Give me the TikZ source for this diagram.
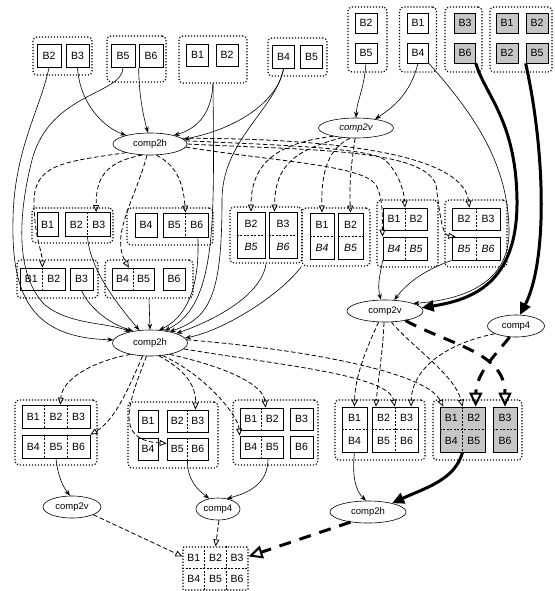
\documentclass[tikz,border=0pt]{standalone}
\usepackage{fontspec}
\setmainfont{Liberation Sans}
\usetikzlibrary{shapes.geometric,arrows.meta,calc}
\newcommand{\blkfont}{\fontsize{10.5}{12}\selectfont}
\newcommand{\opsfont}{\fontsize{9.5}{11}\selectfont}
\newcommand{\cellpair}[3]{\makebox[#1]{#2}\makebox[#1]{#3}}
\newcommand{\celltriple}[4]{\makebox[#1]{#2}\makebox[#1]{#3}\makebox[#1]{#4}}
\tikzset{
  sz/.style 2 args={minimum width=#1pt, minimum height=#2pt},
  grp/.style={draw, line width=1.2pt, dash pattern=on 1.2pt off 1.8pt, rounded corners=4pt, inner sep=0pt},
  blk/.style={draw, line width=0.7pt, inner sep=0pt, font=\blkfont, align=center},
  dark/.style={blk, fill=gray!45},
  cellsep/.style={line width=0.5pt, dash pattern=on 2pt off 1.5pt},
  op/.style={ellipse, draw, line width=0.6pt, inner sep=0pt, font=\opsfont},
  flow/.style={line width=0.6pt, -{Stealth[length=6pt,width=4.5pt]}},
  res/.style={line width=0.8pt, dash pattern=on 4.5pt off 2.5pt, -{Triangle[open,length=7pt,width=6pt]}},
  heavy/.style={line width=3pt, -{Triangle[length=12pt,width=11pt]}},
  heavyres/.style={line width=3pt, dash pattern=on 12pt off 9pt, -{Triangle[open,length=14pt,width=13pt,line width=2pt]}}
}
\begin{document}
\begin{tikzpicture}[x=1pt,y=-1pt]
\useasboundingbox (0,0) rectangle (554,591);

\node[grp, sz={59}{38}] (g1) at (62.5,56) {};
\node[blk, sz={24}{23}] (g1a) at (49,56) {B2};
\node[blk, sz={23}{23}] (g1b) at (77.5,56) {B3};
\node[grp, sz={59}{46}] (g2) at (136.5,59) {};
\node[blk, sz={24}{23}] (g2a) at (123,56) {B5};
\node[blk, sz={24}{23}] (g2b) at (151,56) {B6};
\node[grp, sz={68}{47}] (g3) at (213,59.5) {};
\node[blk, sz={22}{22}] (g3a) at (197.5,55) {B1};
\node[blk, sz={22}{22}] (g3b) at (227,55) {B2};
\node[grp, sz={59}{38}] (g4) at (297.5,57) {};
\node[blk, sz={22}{23}] (g4a) at (283.5,57) {B4};
\node[blk, sz={22}{23}] (g4b) at (311.5,57) {B5};
\node[grp, sz={39}{65}] (g5) at (367.5,39.5) {};
\node[blk, sz={22}{20}] (g5a) at (366,23) {B2};
\node[blk, sz={22}{20}] (g5b) at (366,53) {B5};
\node[grp, sz={37}{65}] (g6) at (418,39.5) {};
\node[blk, sz={21}{20}] (g6a) at (418,23) {B1};
\node[blk, sz={21}{20}] (g6b) at (418,53) {B4};
\node[grp, sz={37}{65}] (g7) at (463.5,39.5) {};
\node[dark, sz={21}{20}] (g7a) at (465,23) {B3};
\node[dark, sz={21}{20}] (g7b) at (465,53) {B6};
\node[grp, sz={62}{65}] (g8) at (521,39.5) {};
\node[dark, sz={22}{20}] (g8a) at (507,23) {B1};
\node[dark, sz={22}{20}] (g8b) at (537,23) {B2};
\node[dark, sz={22}{20}] (g8c) at (507,53) {B2};
\node[dark, sz={22}{20}] (g8d) at (537,53) {B5};

\node[op, sz={74}{22}] (c2ht) at (150,144) {comp2h};
\node[op, sz={75}{20}, font=\opsfont\itshape] (c2vt) at (356,128) {comp2v};

\node[grp, sz={81}{35}] (g9) at (72.5,225.5) {};
\node[blk, sz={21}{24}] (g9a) at (47.5,224.5) {B1};
\node[blk, sz={45}{24}] (g9b) at (87.5,224.5) {\cellpair{22.5pt}{B2}{B3}};
\node[grp, sz={86}{37}] (g10) at (170,226.5) {};
\node[blk, sz={22}{24}] (g10a) at (146,225) {B4};
\node[blk, sz={45}{24}] (g10b) at (185.5,225) {\cellpair{22.5pt}{B5}{B6}};
\node[grp, sz={81}{38}] (g11) at (57.5,279) {};
\node[blk, sz={45}{22}] (g11a) at (42.5,279) {\cellpair{22.5pt}{B1}{B2}};
\node[blk, sz={23}{22}] (g11b) at (81.5,279) {B3};
\node[grp, sz={88}{38}] (g12) at (149,279) {};
\node[blk, sz={42}{22}] (g12a) at (133,279) {\cellpair{21pt}{B4}{B5}};
\node[blk, sz={22}{22}] (g12b) at (174,279) {B6};
\node[grp, sz={72}{56}] (g13) at (266,235) {};
\node[blk, sz={28}{46}] (g13a) at (251,235) {B2\\[11pt]\textit{B5}};
\node[blk, sz={28}{46}] (g13b) at (283,235) {B3\\[11pt]\textit{B6}};
\node[grp, sz={68}{58}] (g14) at (336,237) {};
\node[blk, sz={24}{46}] (g14a) at (322,236) {B1\\[11pt]\textit{B4}};
\node[blk, sz={25}{46}] (g14b) at (350.5,236) {B2\\[11pt]\textit{B5}};
\node[grp, sz={61}{67}] (g15) at (407.5,233.5) {};
\node[blk, sz={44}{22}] (g15a) at (405,219) {\cellpair{22pt}{B1}{B2}};
\node[blk, sz={44}{23}] (g15b) at (405,248.5) {\itshape\cellpair{22pt}{B4}{B5}};
\node[grp, sz={62}{67}] (g16) at (476,233.5) {};
\node[blk, sz={48}{22}] (g16a) at (476,219) {\cellpair{24pt}{B2}{B3}};
\node[blk, sz={48}{23}] (g16b) at (476,248.5) {\itshape\cellpair{24pt}{B5}{B6}};

\node[op, sz={76}{22}] (c2vm) at (385,311) {comp2v};
\node[op, sz={57}{22}] (c4m) at (516,326) {comp4};
\node[op, sz={75}{26}] (c2hm) at (150,343) {comp2h};

\node[grp, sz={82}{65}] (g17) at (56,432.5) {};
\node[blk, sz={68}{23}] (g17a) at (56,416.5) {\celltriple{22.67pt}{B1}{B2}{B3}};
\node[blk, sz={68}{23}] (g17b) at (56,446.5) {\celltriple{22.67pt}{B4}{B5}{B6}};
\node[grp, sz={90}{66}] (g18) at (173,435) {};
\node[blk, sz={20}{22}] (g18a) at (148,421) {B1};
\node[blk, sz={41}{22}] (g18b) at (187.5,421) {\cellpair{20.5pt}{B2}{B3}};
\node[blk, sz={20}{22}] (g18c) at (148,449) {B4};
\node[blk, sz={41}{22}] (g18d) at (187.5,449) {\cellpair{20.5pt}{B5}{B6}};
\node[grp, sz={85}{65}] (g19) at (275.5,432.5) {};
\node[blk, sz={43}{22}] (g19a) at (261.5,419) {\cellpair{21.5pt}{B1}{B2}};
\node[blk, sz={23}{22}] (g19b) at (301.5,419) {B3};
\node[blk, sz={43}{22}] (g19c) at (261.5,447) {\cellpair{21.5pt}{B4}{B5}};
\node[blk, sz={23}{22}] (g19d) at (301.5,447) {B6};
\node[grp, sz={90}{60}] (g20) at (380,430) {};
\node[blk, sz={25}{45}] (g20a) at (354.5,429.5) {B1\\[10.5pt]B4};
\node[blk, sz={46}{45}] (g20b) at (395,429.5) {\cellpair{23pt}{B2}{B3}\\[10.5pt]\cellpair{23pt}{B5}{B6}};
\node[grp, sz={89}{60}] (g21) at (477.5,430) {};
\node[dark, sz={45}{45}] (g21a) at (462.5,429.5) {\cellpair{22.5pt}{B1}{B2}\\[10.5pt]\cellpair{22.5pt}{B4}{B5}};
\node[dark, sz={24}{45}] (g21b) at (505,429.5) {B3\\[10.5pt]B6};

\node[op, sz={58}{22}] (c2vb) at (72,507) {comp2v};
\node[op, sz={44}{22}] (c4b) at (218,509) {comp4};
\node[op, sz={76}{22}] (c2hb) at (368,512) {comp2h};

\node[grp, sz={65}{43}, rounded corners=1pt, font=\blkfont, align=center] (fin) at (215.5,568.5) {\celltriple{21.67pt}{B1}{B2}{B3}\\[9.5pt]\celltriple{21.67pt}{B4}{B5}{B6}};

\foreach \n in {g9b,g10b,g11a,g12a,g15a,g15b,g16a,g16b,g18b,g18d,g19a,g19c,g20b,g21a}
  \draw[cellsep] (\n.north) -- (\n.south);
\foreach \n in {g13a,g13b,g14a,g14b,g20a,g20b,g21a,g21b,fin}
  \draw[cellsep] (\n.west) -- (\n.east);
\foreach \n in {g17a,g17b,fin} {
  \draw[cellsep] ($(\n.north west)!1/3!(\n.north east)$) -- ($(\n.south west)!1/3!(\n.south east)$);
  \draw[cellsep] ($(\n.north west)!2/3!(\n.north east)$) -- ($(\n.south west)!2/3!(\n.south east)$);
}

\draw[flow] (g1b.south) .. controls (80,105) and (105,128) .. (c2ht.160);
\draw[flow] (g2b.south west) .. controls (139,95) and (143,115) .. (c2ht.100);
\draw[flow] (g3.south) .. controls (212,110) and (200,128) .. (c2ht.20);
\draw[flow] (g4a.south) .. controls (278,100) and (240,128) .. (c2ht.8);
\draw[flow] (g1a.south) .. controls (40,110) and (14,150) .. (13,220) .. controls (11,300) and (35,338) .. (c2hm.175);
\draw[flow] (g2a.south) .. controls (122,95) and (50,92) .. (32,160) .. controls (18,215) and (15,275) .. (45,305) .. controls (70,325) and (105,322) .. (c2hm.150);
\draw[flow] (g3.south) .. controls (214,220) and (218,305) .. (c2hm.40);
\draw[flow] (g4a.south) .. controls (275,110) and (222,140) .. (222,200) .. controls (222,295) and (210,318) .. (c2hm.30);
\draw[flow] (g9b.south) .. controls (90,270) and (118,305) .. (c2hm.130);
\draw[flow] (g11b.south) .. controls (88,305) and (105,322) .. (c2hm.145);
\draw[flow] (g12.south) -- (c2hm.north);
\draw[flow] (g10b.-45) .. controls (200,290) and (185,318) .. (c2hm.55);
\draw[flow] (g13.south) .. controls (262,295) and (215,320) .. (c2hm.20);
\draw[flow] (g14.south west) .. controls (280,295) and (225,330) .. (c2hm.8);
\draw[flow] (g5b.south) .. controls (364,90) and (357,100) .. (c2vt.north);
\draw[flow] (g6b.south) .. controls (410,95) and (392,108) .. (c2vt.25);
\draw[flow] (g15b.south west) .. controls (380,275) and (377,285) .. (c2vm.110);
\draw[flow] (g16b.south west) .. controls (425,270) and (408,282) .. (c2vm.50);
\draw[flow] (g6b.south east) .. controls (470,110) and (508,160) .. (509,230) .. controls (510,285) and (460,300) .. (c2vm.15);
\draw[heavy] (g7b.south east) .. controls (485,95) and (516,120) .. (517,200) .. controls (518,285) and (470,300) .. (c2vm.5);
\draw[heavy] (g8d.south west) .. controls (545,150) and (548,260) .. (c4m.70);
\draw[flow] (g17b.south) .. controls (58,478) and (64,488) .. (c2vb.100);
\draw[flow] (g18d.south) .. controls (187,480) and (198,490) .. (c4b.130);
\draw[flow] (g19c.-60) .. controls (268,482) and (252,492) .. (c4b.50);
\draw[flow] (g20a.south) .. controls (352,475) and (355,490) .. (c2hb.100);
\draw[heavy] (g21a.south) .. controls (455,480) and (425,488) .. (c2hb.20);

\draw[res] (c2ht.200) .. controls (60,162) and (33,165) .. (34,205) .. controls (35,240) and (42,250) .. (g11a.north);
\draw[res] (c2ht.235) .. controls (105,162) and (96,178) .. (g9b.55);
\draw[res] (c2ht.255) .. controls (135,200) and (110,235) .. (g12a.110);
\draw[res] (c2ht.300) .. controls (175,165) and (183,180) .. (g10b.north);
\draw[res] (c2ht.5) .. controls (280,145) and (370,148) .. (385,160) .. controls (398,172) and (404,190) .. (g15a.north);
\draw[res] (c2ht.-5) .. controls (280,162) and (362,165) .. (376,185) .. controls (384,200) and (382,220) .. (g15b.north west);
\draw[res] (c2ht.10) .. controls (300,138) and (462,148) .. (g16a.120);
\draw[res] (c2ht.0) .. controls (300,150) and (425,148) .. (436,185) .. controls (440,215) and (442,235) .. (g16b.150);
\draw[res] (c2vt.200) .. controls (285,142) and (251,158) .. (g13a.north);
\draw[res] (c2vt.215) .. controls (295,150) and (275,165) .. (g13b.110);
\draw[res] (c2vt.240) .. controls (330,148) and (321,168) .. (g14a.north);
\draw[res] (c2vt.265) .. controls (352,160) and (349,180) .. (g14b.north);
\draw[res] (c2hm.210) .. controls (90,362) and (62,380) .. (g17a.70);
\draw[res] (c2hm.240) .. controls (128,390) and (115,420) .. (g17b.north east);
\draw[res] (c2hm.255) .. controls (130,400) and (112,440) .. (g18d.165);
\draw[res] (c2hm.305) .. controls (185,370) and (196,385) .. (g18b.55);
\draw[res] (c2hm.330) .. controls (230,368) and (263,385) .. (g19a.70);
\draw[res] (c2hm.315) .. controls (205,375) and (238,415) .. (g19c.north west);
\draw[res] (c2hm.350) .. controls (280,365) and (388,375) .. (g20b.north);
\draw[res] (c2hm.5) .. controls (290,348) and (425,370) .. (g21a.130);
\draw[res] (c2vm.240) .. controls (368,345) and (355,375) .. (g20a.north);
\draw[res] (c2vm.265) .. controls (383,350) and (378,380) .. (g20b.130);
\draw[res] (c2vm.300) .. controls (410,345) and (455,375) .. (g21a.north);
\draw[res] (c4m.200) .. controls (440,345) and (412,372) .. (g20b.55);
\draw[heavyres] (c2vm.-25) .. controls (450,345) and (505,352) .. (g21b.north);
\draw[heavyres] (c4m.-120) .. controls (500,350) and (476,372) .. (g21a.60);
\draw[res] (c2vb.-20) -- (fin.160);
\draw[res] (c4b.-85) -- (fin.north);
\draw[heavyres] (c2hb.210) -- (fin.20);
\end{tikzpicture}
\end{document}
